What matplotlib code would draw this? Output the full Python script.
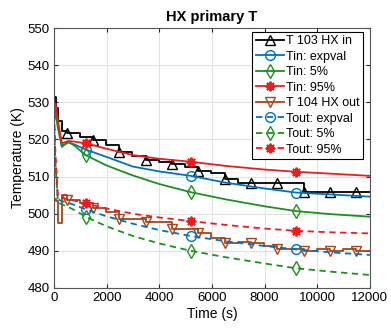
import matplotlib

matplotlib.use("Agg")
import matplotlib.pyplot as plt

plt.rcParams["font.family"] = ["Liberation Sans", "DejaVu Sans"]

# -- experimental data (sensor readings, step-like) --
t_exp = [0, 60, 150, 300, 480, 980, 1480, 1980, 2480, 2980, 3480, 3980, 4480, 4980,
         5480, 5980, 6480, 6980, 7480, 7980, 8480, 8980, 9480, 9980, 10480, 10980,
         11480, 12000]
T103_in = [531.5, 528.5, 525.0, 522.2, 521.7, 520.7, 519.9, 518.6, 516.6, 515.5,
           514.4, 514.0, 513.3, 512.6, 511.4, 510.9, 509.4, 508.2, 508.2, 508.2,
           508.2, 508.2, 505.8, 505.8, 505.8, 505.8, 505.8, 505.8]
T104_out = [504.0, 503.5, 497.5, 505.0, 503.8, 502.8, 501.5, 500.4, 498.6, 498.6,
            497.7, 497.7, 495.9, 495.9, 494.7, 493.5, 492.0, 492.5, 492.0, 491.2,
            490.4, 490.6, 490.0, 490.5, 490.0, 490.4, 490.0, 490.0]

# -- simulation (expected value and 5% / 95% bounds) --
t_sim = [0, 60, 150, 300, 550, 800, 1200, 2000, 3000, 4000, 5200, 6500, 8000,
         9200, 10500, 12000]
tin_exp = [526.5, 528.5, 524.0, 518.4, 519.2, 518.6, 517.3, 515.3, 512.7, 511.4,
           510.2, 508.4, 506.8, 505.7, 505.2, 504.6]
tin_05 = [525.0, 527.0, 523.0, 518.0, 519.4, 518.2, 515.8, 513.0, 510.3, 508.0,
          505.8, 503.9, 502.0, 500.7, 499.9, 499.2]
tin_95 = [527.0, 529.7, 525.0, 519.0, 519.6, 519.4, 519.0, 517.5, 515.8, 514.8,
          514.0, 512.9, 511.9, 511.3, 510.8, 510.2]
tout_exp = [527.0, 514.0, 503.9, 503.4, 502.9, 502.3, 501.2, 499.3, 497.3, 495.6,
            494.0, 492.6, 491.3, 490.4, 489.6, 488.9]
tout_05 = [526.0, 513.0, 503.1, 502.5, 501.8, 500.9, 499.2, 496.6, 494.0, 492.0,
           490.0, 488.3, 486.6, 485.3, 484.4, 483.5]
tout_95 = [527.0, 515.0, 504.6, 504.3, 503.9, 503.5, 502.8, 501.4, 500.0, 499.0,
           498.0, 497.0, 496.0, 495.4, 495.0, 494.7]

sim_marks = [6, 10, 13]
blue = "#0072BD"
green = "#1f8f1f"
red = "#ee1c1c"
brown = "#a5451b"

fig = plt.figure(figsize=(3.91, 3.31), dpi=100)
ax = fig.add_axes([0.138, 0.13, 0.808, 0.785])

lw = 1.3
ms = 7
dash = (0, (3.5, 2.5))
star = (8, 2, 0)  # asterisk, like MATLAB '*'

ax.plot(t_exp, T103_in, color="black", lw=lw, drawstyle="steps-post", marker="^",
        ms=ms, mfc="none", markevery=(4, 2), label="T 103 HX in")
ax.plot(t_sim, tin_exp, color=blue, lw=lw, marker="o", ms=ms, mfc="none",
        markevery=sim_marks, label="Tin: expval")
ax.plot(t_sim, tin_05, color=green, lw=lw, marker="d", ms=ms, mfc="none",
        markevery=sim_marks, label="Tin: 5%")
ax.plot(t_sim, tin_95, color=red, lw=lw, marker=star, ms=ms, mew=1.4,
        markevery=sim_marks, label="Tin: 95%")
ax.plot(t_exp, T104_out, color=brown, lw=lw, drawstyle="steps-post", marker="v",
        ms=ms, mfc="none", markevery=(4, 2), label="T 104 HX out")
ax.plot(t_sim, tout_exp, color=blue, lw=lw, ls=dash, marker="o", ms=ms, mfc="none",
        markevery=sim_marks, label="Tout: expval")
ax.plot(t_sim, tout_05, color=green, lw=lw, ls=dash, marker="d", ms=ms, mfc="none",
        markevery=sim_marks, label="Tout: 5%")
ax.plot(t_sim, tout_95, color=red, lw=lw, ls=dash, marker=star, ms=ms, mew=1.4,
        markevery=sim_marks, label="Tout: 95%")

ax.set_xlim(0, 12000)
ax.set_ylim(480, 550)
ax.set_xticks(range(0, 12001, 2000))
ax.set_yticks(range(480, 551, 10))
ax.tick_params(direction="in", top=True, right=True, labelsize=9.5, length=3,
               color="#262626", pad=3)
ax.grid(True, color="#e0e0e0", lw=0.7)
ax.set_axisbelow(True)
for s in ax.spines.values():
    s.set_color("#555555")
    s.set_linewidth(0.8)

ax.set_title("HX primary T", fontsize=10.5, weight="bold", pad=5)
ax.set_xlabel("Time (s)", fontsize=10, labelpad=2)
ax.set_ylabel("Temperature (K)", fontsize=10, labelpad=2)

leg = ax.legend(loc="upper right", bbox_to_anchor=(0.978, 0.985), fontsize=9,
                handlelength=2.3, handletextpad=0.15, labelspacing=0.28,
                borderpad=0.25, borderaxespad=0.0, fancybox=False, framealpha=1)
leg.get_frame().set_edgecolor("black")
leg.get_frame().set_linewidth(0.8)

fig.savefig("out.png", dpi=100)
